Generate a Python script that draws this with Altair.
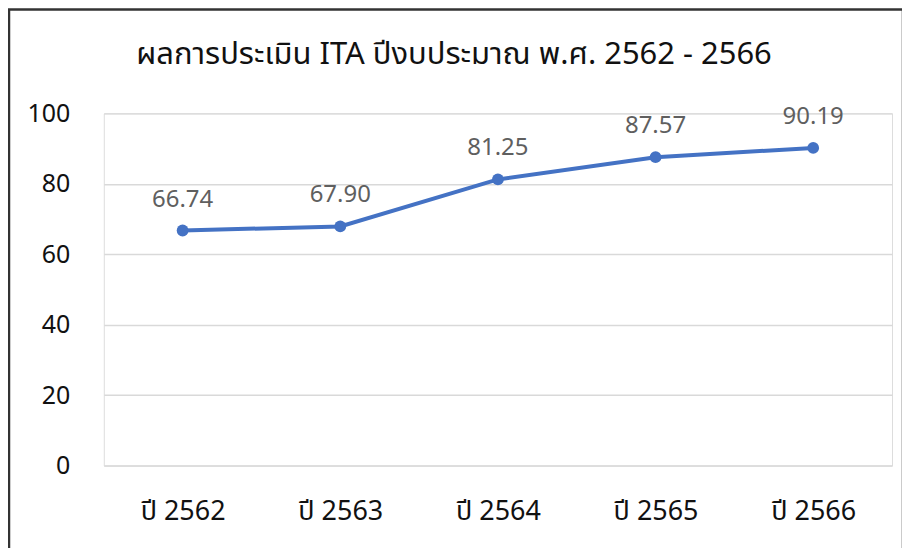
import altair as alt
import pandas as pd

years = ["ปี 2562", "ปี 2563", "ปี 2564", "ปี 2565", "ปี 2566"]
scores = [66.74, 67.90, 81.25, 87.57, 90.19]
labels = ["66.74", "67.90", "81.25", "87.57", "90.19"]
title_text = ["ผลการประเมิน ITA ปีงบประมาณ พ.ศ. 2562 - 2566"]

df = pd.DataFrame({"year": years, "score": scores, "label": labels})

W, H = 790, 353
FONT = "Tahoma, Leelawadee UI, Noto Sans Thai, Noto Sans, sans-serif"

x = alt.X("year:N", sort=years, title=None,
          scale=alt.Scale(paddingInner=0, paddingOuter=0),
          axis=alt.Axis(labelAngle=0, domain=False, ticks=False, labelPadding=33,
                        labelFontSize=27, labelFontWeight="normal", labelColor="#111",
                        labelFont=FONT))
y = alt.Y("score:Q", title=None,
          scale=alt.Scale(domain=[0, 100]),
          axis=alt.Axis(values=[0, 20, 40, 60, 80, 100], domain=False, ticks=False,
                        labelPadding=34, labelFontSize=25, labelColor="#111",
                        labelFont=FONT, gridColor="#d9d9d9", gridWidth=1.5))

base = alt.Chart(df)
line = base.mark_line(color="#4472C4", strokeWidth=4).encode(x=x, y=y)
pts = base.mark_point(filled=True, size=140, color="#4472C4", opacity=1).encode(x=x, y=y)
txt = base.mark_text(dy=-31, fontSize=24, color="#5f5f5f", font=FONT).encode(
    x=x, y=y, text="label:N")

title = alt.Chart(pd.DataFrame({"t": title_text})).mark_text(
    fontSize=31, color="#111", font=FONT, baseline="middle", align="center",
    clip=False).encode(x=alt.value(351), y=alt.value(-58), text="t:N")

border = alt.Chart(pd.DataFrame({"a": [0]})).mark_rect(
    fill=None, stroke="#333", strokeWidth=2.5, clip=False).encode(
    x=alt.value(-95), x2=alt.value(801), y=alt.value(-104), y2=alt.value(445))

chart = alt.layer(line, pts, txt, title, border).properties(
    width=W, height=H,
    autosize=alt.AutoSizeParams(type="none"),
    padding={"left": 96, "top": 105, "right": 10, "bottom": 90},
).configure_view(stroke=None).configure(background="white")

chart.save("out.html", embed_options={"renderer": "svg", "actions": False})
